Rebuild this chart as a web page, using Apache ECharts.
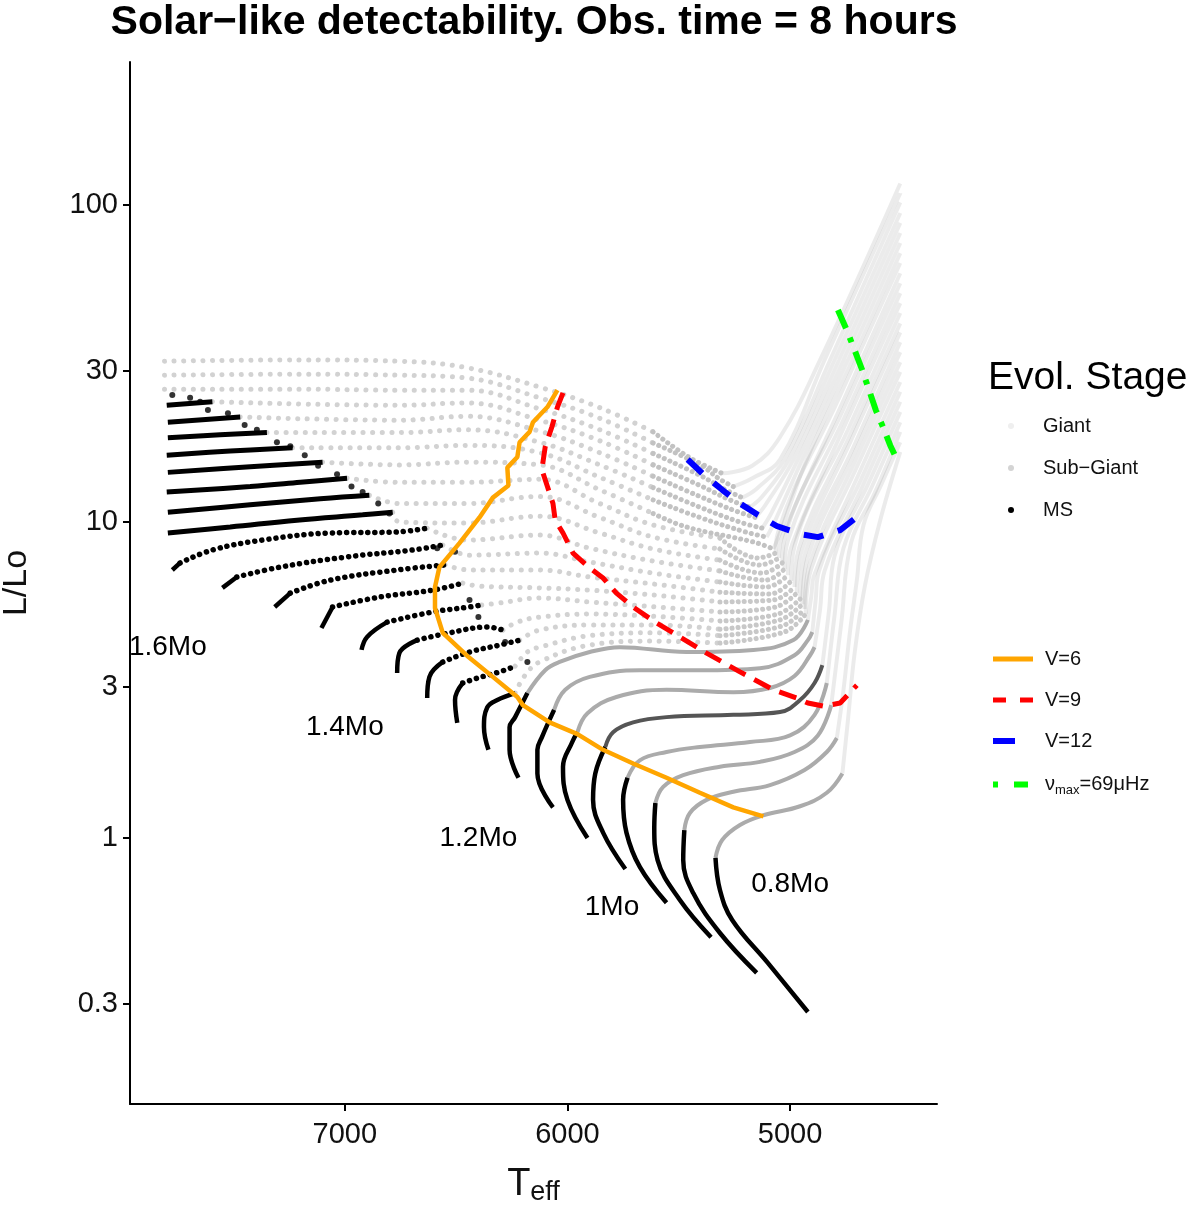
<!DOCTYPE html>
<html>
<head>
<meta charset="utf-8">
<title>Solar-like detectability</title>
<script src="https://cdn.jsdelivr.net/npm/echarts@6.0.0/dist/echarts.min.js"></script>
<style>
  html, body { margin: 0; padding: 0; background: #fff; }
  #chart { width: 1200px; height: 1213px; }
</style>
</head>
<body>
<div id="chart"></div>
<script>
var FONT = '"Liberation Sans", Arial, Helvetica, sans-serif';

// track masses (Mo), one track per 0.05 Mo
var trackMasses = [0.80, 0.85, 0.90, 0.95, 1.00, 1.05, 1.10, 1.15, 1.20, 1.25, 1.30, 1.35, 1.40, 1.45,
    1.50, 1.55, 1.60, 1.65, 1.70, 1.75, 1.80, 1.85, 1.90, 1.95, 2.00, 2.05, 2.10, 2.15];

// main sequence part of each track, [Teff, L/Lo]
var msTracks = [
    [[4920,0.282],[5100,0.403],[5260,0.551],[5315,0.685],[5335,0.865]],
    [[5150,0.375],[5315,0.501],[5435,0.67],[5480,0.852],[5475,1.06]],
    [[5355,0.486],[5495,0.637],[5595,0.852],[5610,1.08],[5605,1.29]],
    [[5555,0.624],[5675,0.81],[5735,1.04],[5750,1.32],[5730,1.55]],
    [[5740,0.798],[5840,1.04],[5885,1.32],[5875,1.6],[5830,1.94]],
    [[5910,1.0],[6000,1.32],[6020,1.68],[5980,2.0],[5955,2.16]],
    [[6065,1.25],[6135,1.6],[6135,1.9],[6115,2.08],[6060,2.54]],
    [[6220,1.55],[6260,1.9],[6260,2.24],[6235,2.41],[6180,2.87]],
    [[6355,1.9],[6375,2.24],[6360,2.59],[6315,2.73],[6235,2.87]],
    [[6495,2.31],[6505,2.73],[6470,3.09],[6405,3.2],[6305,3.35],[6235,3.49]],
    [[6630,2.77],[6620,3.23],[6560,3.6],[6440,3.87],[6305,4.07],[6215,4.22]],
    [[6765,3.32],[6755,3.84],[6675,4.22],[6530,4.45],[6360,4.64],[6290,4.54]],
    [[6925,3.93],[6900,4.32],[6810,4.81],[6605,5.18],[6440,5.37],[6385,5.45]],
    [[7105,4.61],[7055,5.37],[6845,5.77],[6605,6.07],[6470,6.39]],
    [[7315,5.37],[7245,5.94],[7065,6.53],[6765,7.03],[6550,7.29]],
    [[7550,6.17],[7485,6.68],[7290,7.18],[6990,7.73],[6695,8.13],[6560,8.43]],
    [[7775,7.03],[7740,7.4],[7595,8.13],[7370,8.74],[7065,9.2],[6765,9.27],[6630,9.53]],
    [[7795,9.2],[7515,9.61],[7215,10.1],[6920,10.5],[6785,10.7]],
    [[7795,10.7],[7425,11.3],[7110,11.8],[6890,12.1]],
    [[7800,12.4],[7425,12.9],[7200,13.3],[6990,13.7]],
    [[7795,14.3],[7425,14.9],[7100,15.4]],
    [[7800,16.2],[7515,16.7],[7235,17.1]],
    [[7795,18.4],[7560,18.8],[7350,19.1]],
    [[7795,20.6],[7470,21.4]],
    [[7800,23.3],[7595,23.9]],
    [],
    [],
    []
];

// loose MS points around the hooks of the heavier tracks
var msHookDots = [[7775,25.1],[7695,24.6],[7650,23.9],[7615,22.5],[7525,22.0],[7450,20.2],[7395,19.5],
    [7305,17.8],[7245,17.3],[7180,16.2],[7120,15.0],[7035,14.1],[6970,12.9],[6920,12.4],[6850,11.4],
    [6800,10.6],[6585,8.24],[6505,8.02],[6440,5.65],[6400,4.99],[6280,4.16],[6180,3.6]];

// sub-giant part of each track
var sgTracks = [
    [[5335,0.865],[5305,0.986],[5225,1.1],[5120,1.18],[4955,1.26],[4835,1.39],[4765,1.6]],
    [[5475,1.06],[5450,1.2],[5375,1.32],[5255,1.4],[5090,1.47],[4935,1.64],[4835,1.87],[4790,2.07]],
    [[5605,1.29],[5570,1.45],[5480,1.58],[5315,1.68],[5135,1.74],[4980,1.87],[4875,2.11],[4815,2.63]],
    [[5730,1.55],[5675,1.76],[5555,1.87],[5405,1.94],[5180,2.01],[5000,2.11],[4890,2.45],[4835,3.09]],
    [[5830,1.94],[5795,2.16],[5705,2.32],[5555,2.41],[5255,2.45],[5045,2.5],[4955,2.73],[4890,3.09],[4855,3.52]],
    [[5955,2.16],[5910,2.48],[5780,2.79],[5555,2.94],[5255,2.89],[5090,2.98],[4980,3.25],[4910,3.78],[4890,4.01]],
    [[6060,2.54],[6010,2.94],[5900,3.23],[5675,3.39],[5405,3.39],[5135,3.44],[4980,3.78],[4920,4.22],[4900,4.48]],
    [[6180,2.87],[6100,3.39],[6035,3.6],[5900,3.87],[5765,4.01],[5465,3.87],[5165,3.93],[4985,4.22],[4920,4.89]],
    [[6235,2.87],[6190,3.27],[6125,3.6],[5900,4.07],[5615,4.19],[5315,4.13],[5025,4.48],[4930,5.1]],
    [[6235,3.49],[6180,3.87],[6125,4.01],[5900,4.36],[5615,4.45],[5315,4.36],[5035,4.68],[4935,5.29]],
    [[6215,4.22],[6125,4.54],[5900,4.71],[5615,4.71],[5315,4.57],[5045,4.89],[4945,5.48]],
    [[6290,4.54],[6225,4.81],[6125,4.99],[5900,5.1],[5615,5.02],[5315,4.85],[5055,5.1],[4955,5.69]],
    [[6385,5.45],[6305,5.53],[6125,5.73],[5900,5.57],[5615,5.38],[5315,5.18],[5065,5.37],[4970,5.94]],
    [[6470,6.39],[6395,6.25],[6125,6.17],[5900,6.07],[5615,5.86],[5315,5.57],[5075,5.65],[4980,6.21]],
    [[6550,7.29],[6440,7.03],[6125,7.03],[5900,6.68],[5615,6.35],[5315,5.98],[5090,5.9],[4995,6.49]],
    [[6560,8.43],[6440,7.83],[6125,7.95],[5900,7.45],[5615,6.87],[5315,6.44],[5105,6.21],[5010,6.77]],
    [[6630,9.53],[6450,8.74],[6125,9.06],[5900,8.24],[5615,7.5],[5315,6.98],[5110,6.53],[5025,7.08]],
    [[6785,10.7],[6755,9.96],[6450,9.89],[6125,10.4],[5855,9.2],[5615,8.19],[5315,7.55],[5125,6.87],[5035,7.4]],
    [[6890,12.1],[6755,11.4],[6450,11.4],[6125,12.0],[5855,10.3],[5615,8.93],[5315,8.19],[5135,7.29],[5050,7.67]],
    [[6990,13.7],[6755,13.3],[6450,13.3],[6125,13.6],[5855,11.4],[5615,9.75],[5315,8.87],[5145,7.67],[5065,7.95]],
    [[7100,15.4],[6755,15.1],[6450,15.4],[6125,15.1],[5855,12.6],[5615,10.6],[5465,9.61],[5165,8.62],[5075,8.19]],
    [[7235,17.1],[6755,17.1],[6450,17.4],[6125,16.5],[5855,13.8],[5615,11.7],[5405,10.3],[5200,9.27],[5105,8.93]],
    [[7350,19.1],[6755,19.1],[6450,19.5],[6125,17.8],[5855,15.1],[5615,12.8],[5405,11.1],[5225,9.96],[5125,9.53]],
    [[7470,21.4],[6755,20.9],[6450,21.5],[6125,19.3],[5855,16.5],[5615,13.9],[5405,12.0],[5245,10.8],[5155,10.3]],
    [[7595,23.9],[6755,23.3],[6450,23.7],[6125,20.9],[5855,18.0],[5615,15.1],[5405,13.0],[5270,11.7],[5180,11.1]],
    [[7810,26.2],[7200,26.2],[6755,26.0],[6450,26.0],[6125,22.7],[5855,19.5],[5615,16.4],[5405,14.0],[5290,12.6],[5215,11.9]],
    [[7810,29.0],[7200,29.2],[6755,29.0],[6450,28.4],[6125,24.6],[5855,21.2],[5615,17.7],[5405,15.1],[5315,13.6],[5255,12.9]],
    [[7810,32.1],[7200,32.4],[6755,32.1],[6450,30.6],[6125,26.6],[5855,22.9],[5615,19.2],[5450,15.9],[5305,14.2]]
];

// giant branch part of each track
var giantTracks = [
    [[4765,1.6],[4740,2.36],[4710,3.84],[4665,6.21],[4595,10.1],[4505,16.6]],
    [[4790,2.07],[4760,2.94],[4730,4.54],[4700,6.53],[4670,9.75],[4590,13.1],[4505,17.8]],
    [[4815,2.63],[4770,4.78],[4725,8.62],[4620,12.3],[4505,19.2]],
    [[4835,3.09],[4800,5.07],[4760,8.24],[4630,13.0],[4505,20.6]],
    [[4855,3.52],[4825,5.25],[4800,7.79],[4650,13.1],[4505,22.2]],
    [[4890,4.01],[4865,5.29],[4845,6.98],[4675,12.9],[4505,23.9]],
    [[4900,4.48],[4885,5.65],[4870,6.98],[4685,13.4],[4505,25.7]],
    [[4920,4.89],[4905,5.77],[4890,6.82],[4700,13.7],[4505,27.6]],
    [[4930,5.1],[4905,7.08],[4705,14.6],[4505,29.7]],
    [[4935,5.29],[4910,7.4],[4710,15.4],[4505,31.9]],
    [[4945,5.48],[4920,7.73],[4715,16.2],[4505,34.3]],
    [[4955,5.69],[4930,8.02],[4715,17.2],[4505,36.9]],
    [[4970,5.94],[4945,8.19],[4725,18.1],[4505,39.6]],
    [[4980,6.21],[4960,8.24],[4730,18.8],[4505,42.3]],
    [[4995,6.49],[4980,8.36],[4740,19.5],[4505,45.6]],
    [[5010,6.77],[4990,8.49],[4750,20.4],[4505,49.0]],
    [[5025,7.08],[5010,8.69],[4755,21.4],[4505,52.7]],
    [[5035,7.4],[5025,8.81],[4765,22.3],[4505,56.6]],
    [[5050,7.67],[5035,9.0],[4770,23.3],[4505,60.9]],
    [[5065,7.95],[5055,9.2],[4780,24.6],[4505,65.6]],
    [[5075,8.19],[5040,9.4],[4925,15.7],[4720,32.4],[4505,70.5]],
    [[5105,8.93],[5070,9.96],[4945,15.7],[4740,32.4],[4505,75.9]],
    [[5125,9.53],[5085,10.6],[4965,15.7],[4760,32.4],[4505,81.6]],
    [[5155,10.3],[5110,11.3],[4985,15.7],[4780,32.4],[4505,87.8]],
    [[5180,11.1],[5125,12.0],[5005,15.7],[4800,32.4],[4505,94.4]],
    [[5215,11.9],[5150,12.7],[5025,15.7],[4820,32.4],[4505,102]],
    [[5255,12.9],[5170,13.7],[5045,15.7],[4845,32.4],[4505,109]],
    [[5305,14.2],[5170,15.0],[5045,18.5],[4865,32.4],[4505,117]]
];

// detectability limits
var v6Line = [[6045,26.0],[6090,23.0],[6155,20.6],[6170,19.2],[6215,17.8],[6225,16.0],[6270,14.8],
    [6265,13.0],[6335,11.9],[6395,10.3],[6485,8.55],[6575,7.18],[6595,6.21],[6595,5.33],[6560,4.45],
    [6450,3.76],[6335,3.23],[6225,2.79],[6200,2.63],[6080,2.32],[5955,2.13],[5840,1.9],[5705,1.72],
    [5555,1.55],[5405,1.39],[5255,1.25],[5120,1.17]];
var v9Line = [[6020,25.5],[6045,23.0],[6070,19.9],[6100,17.2],[6115,14.6],[6090,12.9],[6065,11.4],
    [6055,10.1],[6020,9.2],[5975,7.95],[5910,7.23],[5840,6.63],[5780,5.94],[5705,5.37],[5600,4.78],
    [5525,4.45],[5375,3.84],[5225,3.35],[5075,2.94],[4970,2.77],[4920,2.67],[4850,2.61],[4775,2.67],[4700,3.04]];
var v12Line = [[5460,15.7],[5380,13.9],[5305,12.6],[5225,11.4],[5145,10.5],[5060,9.68],[4955,9.13],
    [4875,8.93],[4775,9.4],[4695,10.4]];
var numaxLine = [[4785,46.6],[4745,40.2],[4710,34.8],[4675,30.0],[4645,26.0],[4615,22.5],[4580,19.7],
    [4550,17.4],[4520,15.7]];

var massLabelText = ['1.6Mo', '1.4Mo', '1.2Mo', '1Mo', '0.8Mo'];
var massLabelTeff = [7795, 7000, 6400, 5800, 5000];
var massLabelLum = [4.01, 2.24, 1.0, 0.605, 0.716];

var xTicks = [5000, 6000, 7000];
var yTicks = [0.3, 1, 3, 10, 30, 100];

var NUMAX = 'νmax=69μHz';

// how many leading MS points of the 1.25-1.6 Mo tracks are drawn solid (rest dotted)
var msSolidPoints = { 9: 3, 10: 3, 11: 3, 12: 3, 13: 2, 14: 2, 15: 2, 16: 2 };
// below this Teff the dotted sub-giant points crowd together (drawn denser)
var sgDenseTeff = 5320, sgDenseTeffHigh = 5620;

function toLog(pts) {
    return pts.map(function (p) { return [p[0], Math.log10(p[1])]; });
}

var chart = echarts.init(document.getElementById('chart'), null, { renderer: 'canvas' });

var series = [];
var i;
// giant branch, very light
for (i = 0; i < trackMasses.length; i++) {
    series.push({
        name: 'Giant', type: 'line', data: toLog(giantTracks[i]), smooth: 0.4,
        symbol: 'none', z: 1, silent: true,
        itemStyle: { color: '#eeeeee' },
        lineStyle: { color: 'rgba(0,0,0,0.08)', width: 4 }
    });
}
// sub-giants
function sgSeries(pts, style) {
    return {
        name: 'Sub−Giant', type: 'line', data: toLog(pts), smooth: 0.4,
        symbol: 'none', z: 2, silent: true,
        itemStyle: { color: '#d4d4d4' },
        lineStyle: style
    };
}
for (i = 0; i < trackMasses.length; i++) {
    var sg = sgTracks[i];
    if (i <= 7) {
        series.push(sgSeries(sg, { color: i === 4 ? '#555555' : '#ababab', width: 4 }));
        continue;
    }
    var limit = i >= 20 ? sgDenseTeffHigh : sgDenseTeff;
    var k = 0;
    while (k < sg.length - 1 && sg[k][0] > limit) k++;
    series.push(sgSeries(sg.slice(0, k + 1), { color: '#d2d2d2', width: 5, type: [0.1, 9.5], cap: 'round' }));
    series.push(sgSeries(sg.slice(k), { color: i >= 20 ? '#c2c2c2' : '#c8c8c8', width: 5, type: [0.1, 6], cap: 'round' }));
}
// main sequence
function msSeries(pts, style) {
    return {
        name: 'MS', type: 'line', data: toLog(pts), smooth: 0.4,
        symbol: 'none', z: 3, silent: true,
        itemStyle: { color: '#000' },
        lineStyle: style
    };
}
for (i = 0; i < trackMasses.length; i++) {
    var pts = msTracks[i];
    if (!pts.length) continue;
    if (i <= 8 || i >= 17) {
        series.push(msSeries(pts, { color: '#000', width: i <= 8 ? 4.5 : 5 }));
    } else {
        var n = msSolidPoints[i];
        series.push(msSeries(pts.slice(0, n), { color: '#000', width: 4.5 }));
        series.push(msSeries(pts.slice(n - 1), { color: '#000', width: 5.5, type: [0.1, 7], cap: 'round' }));
    }
}
series.push({
    name: 'MS', type: 'scatter', data: toLog(msHookDots), symbolSize: 6, z: 3, silent: true,
    itemStyle: { color: '#000' }
});

series.push({
    name: 'V=6', type: 'line', data: toLog(v6Line), symbol: 'none', z: 5, silent: true,
    itemStyle: { color: '#FFA500' },
    lineStyle: { color: '#FFA500', width: 4.5 }
});
series.push({
    name: 'V=9', type: 'line', data: toLog(v9Line), symbol: 'none', z: 5, silent: true,
    itemStyle: { color: '#FF0000' },
    lineStyle: { color: '#FF0000', width: 5, type: [18, 10] }
});
series.push({
    name: 'V=12', type: 'line', data: toLog(v12Line), symbol: 'none', z: 5, silent: true,
    itemStyle: { color: '#0000FF' },
    lineStyle: { color: '#0000FF', width: 6, type: [20, 15] }
});
series.push({
    name: NUMAX, type: 'line', data: toLog(numaxLine), symbol: 'none', z: 5, silent: true,
    itemStyle: { color: '#00FF00' },
    lineStyle: { color: '#00FF00', width: 6, type: [20, 10, 5, 10] }
});

series.push({
    name: 'massLabels', type: 'scatter', symbolSize: 1, z: 6, silent: true, clip: false,
    itemStyle: { color: 'rgba(0,0,0,0)' },
    data: massLabelText.map(function (t, k) {
        return { name: t, value: [massLabelTeff[k], Math.log10(massLabelLum[k])] };
    }),
    label: {
        show: true, position: 'inside', formatter: '{b}',
        fontFamily: FONT, fontSize: 28, color: '#000',
        textBorderWidth: 0, textBorderColor: 'transparent', opacity: 1
    }
});

var option = {
    animation: false,
    backgroundColor: '#ffffff',
    grid: { left: 130, right: 263, top: 62, bottom: 109, containLabel: false, outerBoundsMode: 'none' },
    xAxis: {
        type: 'value', inverse: true, min: 4340, max: 7965,
        axisLine: { onZero: false, lineStyle: { color: '#000', width: 2 } },
        axisTick: { customValues: xTicks, length: 7, lineStyle: { color: '#000', width: 2 } },
        axisLabel: {
            customValues: xTicks, fontFamily: FONT, fontSize: 29, color: '#111', margin: 16,
            formatter: function (v) { return String(Math.round(v)); }
        },
        splitLine: { show: false },
        name: '{t|T}{s|eff}', nameLocation: 'middle', nameGap: 62,
        nameTextStyle: {
            rich: {
                t: { fontFamily: FONT, fontSize: 38, lineHeight: 38, verticalAlign: 'top', color: '#111' },
                s: { fontFamily: FONT, fontSize: 27, lineHeight: 27, padding: [16, 0, 0, 0], color: '#111' }
            }
        }
    },
    yAxis: {
        type: 'value', min: -0.8404, max: 2.452,
        axisLine: { onZero: false, lineStyle: { color: '#000', width: 2 } },
        axisTick: { customValues: yTicks.map(Math.log10), length: 7, lineStyle: { color: '#000', width: 2 } },
        axisLabel: {
            customValues: yTicks.map(Math.log10), fontFamily: FONT, fontSize: 29, color: '#111', margin: 12,
            formatter: function (v) { return String(Math.round(Math.pow(10, v) * 10) / 10); }
        },
        splitLine: { show: false },
        name: 'L/Lo', nameLocation: 'middle', nameRotate: 90, nameGap: 96,
        nameTextStyle: { fontFamily: FONT, fontSize: 34, color: '#111' }
    },
    legend: [
        {
            orient: 'vertical', left: 1003, top: 411, itemWidth: 40, itemHeight: 6, itemGap: 22,
            selectedMode: false,
            itemStyle: { borderWidth: 0 },
            textStyle: { fontFamily: FONT, fontSize: 20, lineHeight: 20, color: '#111', padding: [0, 0, 0, 7] },
            data: [
                { name: 'Giant', icon: 'circle', itemStyle: { color: '#efefef', borderWidth: 0 } },
                { name: 'Sub−Giant', icon: 'circle', itemStyle: { color: '#d4d4d4', borderWidth: 0 } },
                { name: 'MS', icon: 'circle', itemStyle: { color: '#000000', borderWidth: 0 } }
            ]
        },
        {
            orient: 'vertical', left: 985, top: 644, itemWidth: 40, itemHeight: 14, itemGap: 21,
            selectedMode: false,
            itemStyle: { opacity: 0 },
            textStyle: {
                fontFamily: FONT, fontSize: 20, lineHeight: 20, color: '#111', padding: [0, 0, 0, 7],
                rich: {
                    g: { fontFamily: FONT, fontSize: 20, lineHeight: 20, verticalAlign: 'top', color: '#111' },
                    s: { fontFamily: FONT, fontSize: 13, lineHeight: 13, padding: [12, 0, 0, 0], color: '#111' }
                }
            },
            formatter: function (name) {
                if (name === NUMAX) return '{g|ν}{s|max}{g|=69μHz}';
                return name;
            },
            data: [
                { name: 'V=6', lineStyle: { width: 5 } },
                { name: 'V=9', lineStyle: { width: 5, type: [13, 14] } },
                { name: 'V=12', lineStyle: { width: 6, type: [22, 30] } },
                { name: NUMAX, lineStyle: { width: 6, type: [5, 16, 14, 10] } }
            ]
        }
    ],
    graphic: [
        {
            type: 'text', x: 534, y: 23, silent: true,
            style: {
                text: 'Solar−like detectability. Obs. time = 8 hours',
                font: 'bold 41px ' + FONT, fill: '#000', align: 'center', verticalAlign: 'middle'
            }
        },
        {
            type: 'text', x: 988, y: 378, silent: true,
            style: { text: 'Evol. Stage', font: '39px ' + FONT, fill: '#000', align: 'left', verticalAlign: 'middle' }
        }
    ],
    series: series
};

chart.setOption(option);
window.addEventListener('resize', chart.resize);
</script>
</body>
</html>
